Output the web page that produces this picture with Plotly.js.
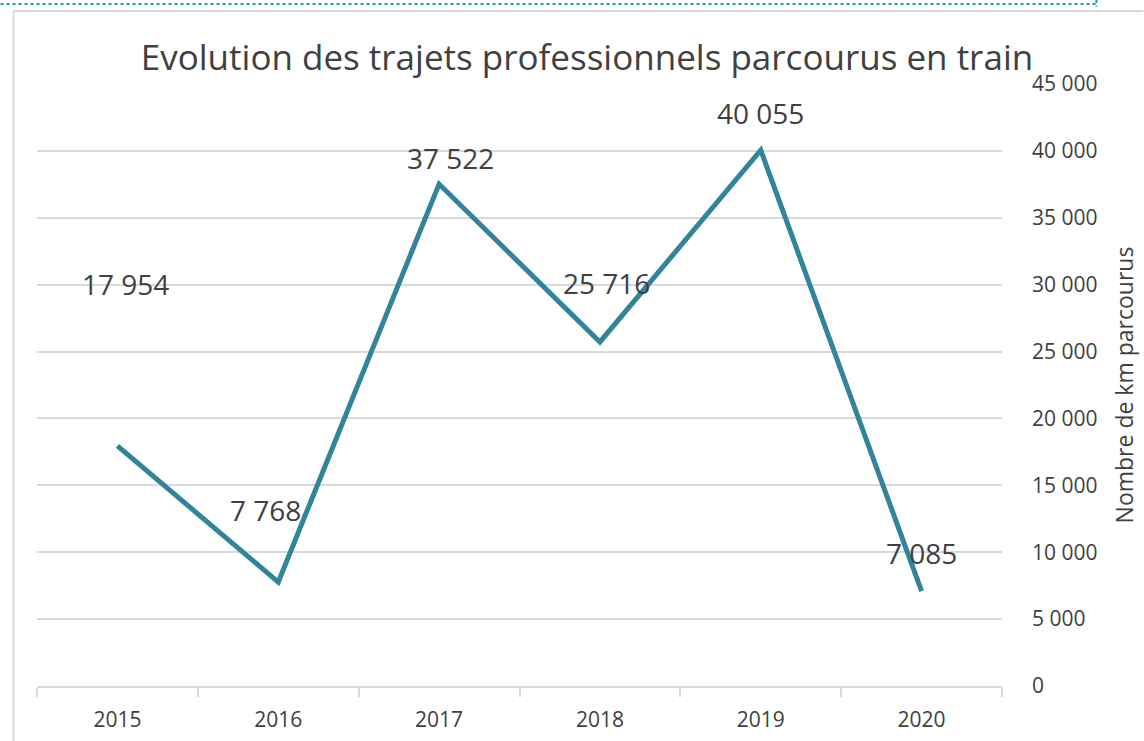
<!DOCTYPE html>
<html><head><meta charset="utf-8">
<script src="https://cdn.plot.ly/plotly-3.0.1.min.js"></script>
<style>html,body{margin:0;padding:0;background:#fff}#c{width:1144px;height:741px}</style>
</head><body><div id="c"></div>
<script>
const years = ['2015','2016','2017','2018','2019','2020'];
const km = [17954, 7768, 37522, 25716, 40055, 7085];
const labels = ['17 954','7 768','37 522','25 716','40 055','7 085'];
const titleText = 'Evolution des trajets professionnels parcourus en train';
const yTitle = 'Nombre de km parcourus';

const W = 1144, H = 741;
const L = 36.5, R = 141.5, T = 84, B = 55;
const pw = W - L - R, ph = H - T - B;
const px = x => (x - L) / pw;
const py = y => (H - B - y) / ph;

// label offsets (pixels) relative to each point
const lblShift = [[8,162],[-13,72],[11,26],[7,59],[0,37],[0,38]];

const font = 'Open Sans, sans-serif';
const txt = '#404040';

const annotations = years.map((yr,i)=>({
  x: i, y: km[i], xref:'x', yref:'y', text: labels[i], showarrow:false,
  xshift: lblShift[i][0], yshift: lblShift[i][1],
  font:{family:font, size:28, color:txt}
}));

const shapes = [
  {type:'line', xref:'paper', yref:'paper', x0:px(0), x1:px(1097), y0:py(4), y1:py(4), line:{color:'#1b9a9a', width:2, dash:'dot'}},
  {type:'line', xref:'paper', yref:'paper', x0:px(1097), x1:px(1097), y0:py(0), y1:py(7), line:{color:'#1b9a9a', width:2, dash:'dot'}},
  {type:'line', xref:'paper', yref:'paper', x0:px(13), x1:px(1144), y0:py(11), y1:py(11), line:{color:'#d9d9d9', width:2}},
  {type:'line', xref:'paper', yref:'paper', x0:px(13), x1:px(13), y0:py(11), y1:py(741), line:{color:'#d9d9d9', width:2}}
];

Plotly.newPlot('c', [{
  x: years, y: km, type:'scatter', mode:'lines',
  line:{color:'#31849b', width:5}, hoverinfo:'skip'
}], {
  width: W, height: H,
  margin:{l:L, r:R, t:T, b:B, pad:0},
  paper_bgcolor:'#fff', plot_bgcolor:'#fff',
  separators:', ',
  showlegend:false,
  title:{text:titleText, x:587/W, xanchor:'center', y:1-58/H, yanchor:'middle',
         font:{family:font, size:35, color:txt}},
  xaxis:{type:'category', range:[-0.5,5.5], showgrid:false, zeroline:false,
         showline:true, linecolor:'#d9d9d9', linewidth:2,
         ticks:'outside', tickson:'boundaries', ticklen:9, tickcolor:'#d9d9d9', tickwidth:2,
         ticklabelstandoff:14,
         tickfont:{family:font, size:21, color:txt}, fixedrange:true},
  yaxis:{side:'right', range:[0,45000], dtick:5000, tickformat:',d',
         showgrid:true, gridcolor:'#d9d9d9', gridwidth:2, zeroline:false, showline:false,
         ticks:'', ticklabelstandoff:29,
         tickfont:{family:font, size:21, color:txt},
         title:{text:yTitle, standoff:20, font:{family:font, size:23, color:txt}}, fixedrange:true},
  annotations: annotations, shapes: shapes
}, {staticPlot:true});
</script></body></html>
